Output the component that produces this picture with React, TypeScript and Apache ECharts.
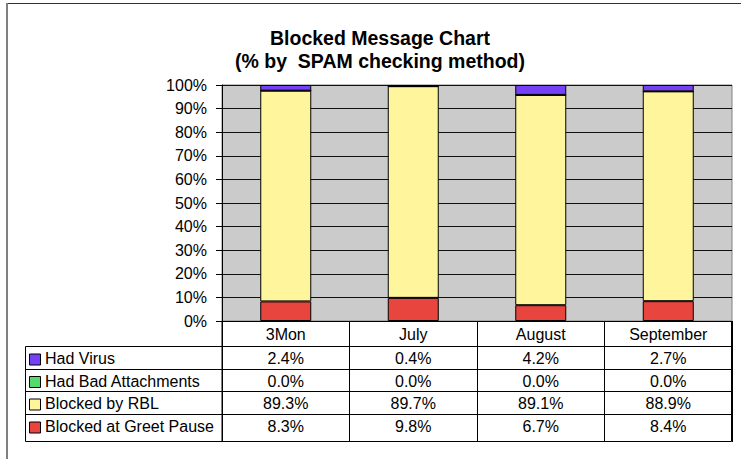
import React, { useEffect, useRef } from 'react';
import * as echarts from 'echarts';

const categories = ['3Mon', 'July', 'August', 'September'];
const hadVirus = [2.4, 0.4, 4.2, 2.7];
const hadBadAttachments = [0.0, 0.0, 0.0, 0.0];
const blockedByRBL = [89.3, 89.7, 89.1, 88.9];
const blockedAtGreetPause = [8.3, 9.8, 6.7, 8.4];

const titleText = 'Blocked Message Chart\n(% by  SPAM checking method)';

const FONT = "'Liberation Sans', Arial, sans-serif";

// Table rows, in display order (top to bottom)
const tableRows = [
  { name: 'Had Virus', values: hadVirus, color: '#7640f6' },
  { name: 'Had Bad Attachments', values: hadBadAttachments, color: '#52dc6c' },
  { name: 'Blocked by RBL', values: blockedByRBL, color: '#fff59c' },
  { name: 'Blocked at Greet Pause', values: blockedAtGreetPause, color: '#e8453f' },
];

// Stack order (bottom to top)
const stackOrder = [3, 2, 1, 0];

export default function App() {
  const ref = useRef<HTMLDivElement>(null);

  useEffect(() => {
    if (!ref.current) return;
    const chart = echarts.init(ref.current, undefined, { renderer: 'svg', width: 741, height: 459 });

    const option: any = {
      animation: false,
      backgroundColor: '#ffffff',
      title: {
        text: titleText,
        left: 375,
        top: 21,
        textAlign: 'center',
        textStyle: {
          fontFamily: FONT,
          fontSize: 19.5,
          fontWeight: 'bold',
          color: '#000',
          lineHeight: 23,
        },
      },
      grid: {
        left: 222,
        top: 85,
        right: 9,
        bottom: 138,
        show: true,
        backgroundColor: '#cbcbcb',
        borderColor: '#808080',
        borderWidth: 1,
      },
      xAxis: {
        type: 'category',
        data: categories,
        axisLine: { show: true, lineStyle: { color: '#000', width: 1 } },
        axisTick: { show: true, length: 121, lineStyle: { color: '#000', width: 1 } },
        axisLabel: {
          margin: 4,
          fontFamily: FONT,
          fontSize: 16,
          lineHeight: 18,
          color: '#000',
        },
        splitLine: { show: false },
      },
      yAxis: {
        type: 'value',
        min: 0,
        max: 100,
        interval: 10,
        axisLine: { show: true, lineStyle: { color: '#000', width: 1 } },
        axisTick: { show: true, length: 6, lineStyle: { color: '#000' } },
        axisLabel: {
          formatter: '{value}%',
          margin: 15,
          fontFamily: FONT,
          fontSize: 16,
          color: '#000',
        },
        splitLine: { show: true, lineStyle: { color: '#111', width: 1 } },
      },
      series: stackOrder.map((i) => ({
        name: tableRows[i].name,
        type: 'bar',
        stack: 'total',
        barCategoryGap: '60%',
        data: tableRows[i].values,
        itemStyle: { color: tableRows[i].color, borderColor: '#000', borderWidth: 1 },
      })),
    };
    chart.setOption(option);

    const rowLines = [346.5, 369.5, 391.5, 414.5, 441.5];
    const rowTextY = [358.5, 381, 403.5, 426.5];
    const tableLeft = 25.5;
    const tableRight = 731.5;
    const legendRight = 222;

    const graphics: any[] = [];
    // chart area border (top and left visible)
    graphics.push({ type: 'line', shape: { x1: 7, y1: 3.5, x2: 741, y2: 3.5 }, style: { stroke: '#333', lineWidth: 1 } });
    graphics.push({ type: 'line', shape: { x1: 7, y1: 3, x2: 7, y2: 459 }, style: { stroke: '#808080', lineWidth: 2 } });

    // table lines
    rowLines.forEach((y) => {
      graphics.push({ type: 'line', shape: { x1: tableLeft, y1: y, x2: tableRight, y2: y }, style: { stroke: '#000', lineWidth: 1 } });
    });
    graphics.push({ type: 'line', shape: { x1: tableLeft, y1: rowLines[0], x2: tableLeft, y2: rowLines[4] }, style: { stroke: '#000', lineWidth: 1 } });
    graphics.push({ type: 'line', shape: { x1: legendRight, y1: 321, x2: legendRight, y2: rowLines[4] }, style: { stroke: '#000', lineWidth: 1 } });
    graphics.push({ type: 'line', shape: { x1: tableRight, y1: 321, x2: tableRight, y2: rowLines[4] }, style: { stroke: '#000', lineWidth: 1 } });

    tableRows.forEach((row, r) => {
      const cy = rowTextY[r];
      graphics.push({
        type: 'rect',
        shape: { x: 29.5, y: cy - 4.5, width: 11, height: 11 },
        style: { fill: row.color, stroke: '#000', lineWidth: 1 },
      });
      graphics.push({
        type: 'text',
        x: 45,
        y: cy,
        style: { text: row.name, font: `16px ${FONT}`, fill: '#000', textAlign: 'left', textVerticalAlign: 'middle' },
      });
      row.values.forEach((v, c) => {
        const px = chart.convertToPixel({ xAxisIndex: 0 }, categories[c]) as number;
        graphics.push({
          type: 'text',
          x: px,
          y: cy,
          style: { text: v.toFixed(1) + '%', font: `16px ${FONT}`, fill: '#000', textAlign: 'center', textVerticalAlign: 'middle' },
        });
      });
    });

    chart.setOption({ graphic: graphics });

    return () => {
      chart.dispose();
    };
  }, []);

  return (
    <div
      ref={ref}
      style={{ position: 'absolute', left: 0, top: 0, width: 741, height: 459 }}
    />
  );
}
